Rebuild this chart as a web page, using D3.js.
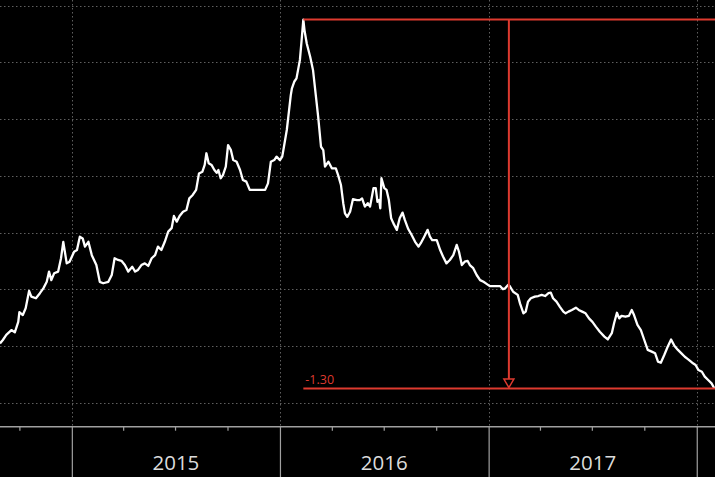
<!DOCTYPE html>
<html>
<head>
<meta charset="utf-8">
<script src="https://cdn.jsdelivr.net/npm/d3@7"></script>
<style>
  html, body { margin: 0; padding: 0; background: #000; }
  svg { display: block; }
</style>
</head>
<body>
<svg id="chart" width="715" height="477"></svg>
<script>
// ---------------- DATA ----------------
const dates = [
"2014-08-28","2014-09-02","2014-09-08","2014-09-17","2014-09-23","2014-09-29","2014-10-01","2014-10-07","2014-10-12","2014-10-18",
"2014-10-22","2014-10-30","2014-11-06","2014-11-12","2014-11-18","2014-11-22","2014-11-26","2014-12-01","2014-12-08","2014-12-13",
"2014-12-17","2014-12-23","2014-12-28","2015-01-05","2015-01-10","2015-01-15","2015-01-20","2015-01-24","2015-01-30","2015-02-05",
"2015-02-13","2015-02-19","2015-02-25","2015-03-06","2015-03-12","2015-03-17","2015-03-23","2015-03-29","2015-04-04","2015-04-10",
"2015-04-17","2015-04-22","2015-04-27","2015-05-03","2015-05-09","2015-05-15","2015-05-21","2015-05-27","2015-06-01","2015-06-07",
"2015-06-13","2015-06-19","2015-06-25","2015-06-29","2015-07-04","2015-07-09","2015-07-15","2015-07-21","2015-07-26","2015-08-01",
"2015-08-07","2015-08-12","2015-08-18","2015-08-22","2015-08-25","2015-08-29","2015-09-03","2015-09-08","2015-09-12","2015-09-15",
"2015-09-19","2015-09-23","2015-09-28","2015-10-02","2015-10-07","2015-10-11","2015-10-17","2015-10-23","2015-10-28","2015-11-03",
"2015-11-09","2015-11-15","2015-11-24","2015-12-06","2015-12-11","2015-12-16","2015-12-22","2015-12-26","2016-01-01","2016-01-05",
"2016-01-08","2016-01-13","2016-01-17","2016-01-20","2016-01-22","2016-01-26","2016-01-30","2016-02-05","2016-02-08","2016-02-11",
"2016-02-13","2016-02-17","2016-02-23","2016-02-28","2016-03-08","2016-03-13","2016-03-17","2016-03-20","2016-03-26","2016-04-01",
"2016-04-08","2016-04-12","2016-04-17","2016-04-21","2016-04-24","2016-04-28","2016-05-03","2016-05-08","2016-05-15","2016-05-20",
"2016-05-24","2016-05-29","2016-06-03","2016-06-07","2016-06-13","2016-06-17","2016-06-20","2016-06-23","2016-06-25","2016-06-27",
"2016-07-02","2016-07-06","2016-07-10","2016-07-14","2016-07-18","2016-07-24","2016-07-29","2016-08-03","2016-08-07","2016-08-13",
"2016-08-19","2016-08-25","2016-08-31","2016-09-04","2016-09-10","2016-09-16","2016-09-20","2016-09-24","2016-10-02","2016-10-08",
"2016-10-13","2016-10-19","2016-10-25","2016-10-31","2016-11-06","2016-11-10","2016-11-15","2016-11-20","2016-11-25","2016-11-29",
"2016-12-05","2016-12-11","2016-12-17","2016-12-23","2016-12-29","2017-01-03","2017-01-12","2017-01-21","2017-01-26","2017-01-30",
"2017-02-04","2017-02-07","2017-02-13","2017-02-21","2017-02-25","2017-03-03","2017-03-07","2017-03-11","2017-03-16","2017-03-23",
"2017-03-29","2017-04-04","2017-04-10","2017-04-16","2017-04-20","2017-04-24","2017-04-30","2017-05-06","2017-05-12","2017-05-16",
"2017-05-21","2017-05-27","2017-06-03","2017-06-08","2017-06-14","2017-06-20","2017-06-26","2017-07-02","2017-07-08","2017-07-15",
"2017-07-23","2017-07-29","2017-08-05","2017-08-09","2017-08-14","2017-08-18","2017-08-22","2017-08-29","2017-09-04","2017-09-09",
"2017-09-13","2017-09-19","2017-09-25","2017-10-01","2017-10-07","2017-10-14","2017-10-20","2017-10-25","2017-10-30","2017-11-05",
"2017-11-11","2017-11-17","2017-11-23","2017-11-29","2017-12-06","2017-12-11","2017-12-17","2017-12-24","2017-12-30","2018-01-04",
"2018-01-10","2018-01-15","2018-01-21","2018-01-27","2018-02-01"
];
const values = [
1.210,1.222,1.240,1.257,1.249,1.286,1.320,1.310,1.334,1.395,
1.375,1.369,1.387,1.404,1.427,1.463,1.433,1.457,1.463,1.510,
1.568,1.492,1.498,1.533,1.539,1.586,1.580,1.551,1.568,1.521,
1.486,1.427,1.422,1.427,1.451,1.510,1.504,1.501,1.486,1.463,
1.480,1.463,1.469,1.486,1.492,1.483,1.510,1.521,1.551,1.539,
1.568,1.604,1.616,1.659,1.639,1.659,1.674,1.680,1.721,1.733,
1.751,1.809,1.815,1.839,1.880,1.845,1.839,1.821,1.811,1.821,
1.792,1.803,1.833,1.909,1.891,1.856,1.850,1.821,1.786,1.780,
1.751,1.751,1.751,1.751,1.774,1.850,1.856,1.868,1.856,1.868,
1.903,1.962,2.032,2.085,2.109,2.132,2.144,2.209,2.279,2.351,
2.314,2.267,2.220,2.173,2.009,1.903,1.891,1.833,1.850,1.827,
1.827,1.803,1.768,1.704,1.668,1.656,1.674,1.718,1.715,1.715,
1.721,1.692,1.704,1.692,1.757,1.757,1.709,1.715,1.686,1.792,
1.757,1.751,1.715,1.651,1.633,1.610,1.651,1.671,1.645,1.613,
1.592,1.568,1.551,1.563,1.586,1.610,1.586,1.574,1.574,1.539,
1.516,1.492,1.504,1.521,1.557,1.533,1.486,1.498,1.501,1.486,
1.475,1.451,1.433,1.427,1.419,1.412,1.412,1.412,1.401,1.404,
1.416,1.412,1.392,1.381,1.351,1.316,1.322,1.357,1.369,1.375,
1.377,1.381,1.377,1.387,1.389,1.369,1.357,1.339,1.322,1.316,
1.322,1.328,1.336,1.328,1.322,1.316,1.298,1.286,1.269,1.251,
1.234,1.224,1.246,1.281,1.318,1.298,1.307,1.304,1.307,1.328,
1.310,1.275,1.257,1.222,1.187,1.181,1.175,1.146,1.142,1.169,
1.198,1.224,1.201,1.187,1.173,1.163,1.154,1.142,1.134,1.116,
1.110,1.093,1.081,1.069,1.051
];
const gridValues = [1.0, 1.2, 1.4, 1.6, 1.8, 2.0, 2.2, 2.4];
const yearLabels = ["2015", "2016", "2017"];
const xDomain = ["2014-08-28", "2018-02-02"];

// ---------------- SETUP ----------------
const W = 715, H = 477, axisY = 426.7;
const parse = d3.utcParse("%Y-%m-%d");
const data = dates.map((d, i) => ({ date: parse(d), value: values[i] }));

const x = d3.scaleUtc().domain(xDomain.map(parse)).range([0, W]);
const y = d3.scaleLinear().domain([1.0, 2.4]).range([403, 5.7]);

const svg = d3.select("#chart");
svg.append("rect").attr("width", W).attr("height", H).attr("fill", "#000");

const gridColor = "#5f5f5f";

// horizontal grid
svg.append("g").selectAll("line").data(gridValues).join("line")
  .attr("x1", 0).attr("x2", W)
  .attr("y1", d => Math.round(y(d)) + 0.5).attr("y2", d => Math.round(y(d)) + 0.5)
  .attr("stroke", gridColor).attr("stroke-width", 1).attr("stroke-dasharray", "1.5,2.5");

// year boundaries
const yearStarts = d3.utcYear.range(x.domain()[0], x.domain()[1]);
svg.append("g").selectAll("line").data(yearStarts).join("line")
  .attr("x1", d => Math.round(x(d)) + 0.5).attr("x2", d => Math.round(x(d)) + 0.5)
  .attr("y1", 0).attr("y2", axisY)
  .attr("stroke", gridColor).attr("stroke-width", 1).attr("stroke-dasharray", "1.5,2.5");

// axis
const axis = d3.axisBottom(x)
  .ticks(d3.utcMonth.every(3))
  .tickSize(4)
  .tickFormat("");
const gAxis = svg.append("g").attr("transform", `translate(0,${axisY})`).call(axis);
gAxis.select(".domain").attr("stroke", "#a0a0a0").attr("stroke-width", 1.5).attr("d", `M0,0H${W}`);
gAxis.selectAll(".tick line").attr("stroke", "#a0a0a0").attr("stroke-width", 1.2)
  .attr("y2", d => d.getUTCMonth() === 0 ? H - axisY : 4);

// year labels
svg.append("g").selectAll("text").data(yearLabels).join("text")
  .attr("x", d => (x(parse(d + "-01-01")) + x(parse((+d + 1) + "-01-01"))) / 2)
  .attr("y", 470)
  .attr("text-anchor", "middle")
  .attr("fill", "#dcdcdc")
  .attr("font-family", "'Open Sans', 'Noto Sans', sans-serif")
  .attr("font-size", 20.5)
  .text(d => d);

// line
const line = d3.line().x(d => x(d.date)).y(d => y(d.value)).curve(d3.curveLinear);
svg.append("path").datum(data)
  .attr("d", line)
  .attr("fill", "none")
  .attr("stroke", "#ffffff")
  .attr("stroke-width", 2.3)
  .attr("stroke-linejoin", "round");

// difference annotation (peak -> last)
const red = "#de3a2f";
const peak = data.reduce((a, b) => (b.value > a.value ? b : a));
const last = data[data.length - 1];
const px = x(peak.date), py = y(peak.value);
const ly = y(last.value);
const midX = (x(peak.date) + x(last.date)) / 2;
const ann = svg.append("g");
ann.append("line").attr("x1", px).attr("x2", W).attr("y1", py).attr("y2", py)
  .attr("stroke", red).attr("stroke-width", 2);
ann.append("line").attr("x1", px).attr("x2", W).attr("y1", ly).attr("y2", ly)
  .attr("stroke", red).attr("stroke-width", 2);
ann.append("line").attr("x1", midX).attr("x2", midX).attr("y1", py).attr("y2", ly - 9)
  .attr("stroke", red).attr("stroke-width", 2);
ann.append("path")
  .attr("d", `M${midX - 5},${ly - 9.5}L${midX + 5},${ly - 9.5}L${midX},${ly - 1}Z`)
  .attr("fill", "#000").attr("stroke", red).attr("stroke-width", 1.5);
ann.append("text")
  .attr("x", px + 2).attr("y", ly - 5)
  .attr("fill", red)
  .attr("font-family", "'Open Sans', 'Noto Sans', sans-serif")
  .attr("font-size", 12.5)
  .text((last.value - peak.value).toFixed(2));
</script>
</body>
</html>
